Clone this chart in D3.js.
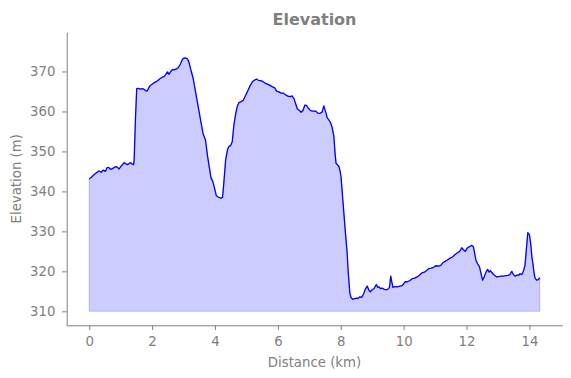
<!DOCTYPE html>
<html lang="en">
<head>
<meta charset="UTF-8">
<title>Elevation</title>
<script src="https://d3js.org/d3.v7.min.js"></script>
<style>
    body { margin: 0; background: #fff; }
    text { font-family: "DejaVu Sans", sans-serif; fill: #808080; }
    .axis path, .axis line { stroke: #808080; }
</style>
</head>
<body>
<svg id="chart"></svg>
<script>
// distance along the track (km)
const distance = [
    0.00, 0.05, 0.10, 0.16, 0.22, 0.28, 0.32, 0.38, 0.44, 0.48, 0.52, 0.56, 0.62, 0.69, 0.74, 0.80,
    0.85, 0.90, 0.95, 1.00, 1.05, 1.11, 1.16, 1.22, 1.27, 1.32, 1.37, 1.41, 1.43, 1.47, 1.51, 1.56,
    1.62, 1.69, 1.75, 1.81, 1.85, 1.90, 1.94, 2.00, 2.06, 2.12, 2.17, 2.22, 2.27, 2.33, 2.38, 2.43,
    2.49, 2.54, 2.59, 2.65, 2.70, 2.76, 2.81, 2.86, 2.91, 2.95, 2.99, 3.05, 3.12, 3.17, 3.23, 3.30,
    3.39, 3.47, 3.55, 3.62, 3.70, 3.76, 3.82, 3.87, 3.93, 3.98, 4.04, 4.10, 4.18, 4.24, 4.28, 4.34,
    4.40, 4.44, 4.50, 4.55, 4.60, 4.66, 4.71, 4.76, 4.82, 4.90, 4.96, 5.03, 5.10, 5.19, 5.25, 5.32,
    5.38, 5.45, 5.52, 5.61, 5.70, 5.82, 5.90, 5.96, 6.03, 6.10, 6.17, 6.24, 6.32, 6.40, 6.45, 6.51,
    6.57, 6.62, 6.68, 6.74, 6.80, 6.86, 6.91, 6.97, 7.04, 7.10, 7.20, 7.27, 7.33, 7.41, 7.46, 7.52,
    7.57, 7.62, 7.67, 7.72, 7.78, 7.82, 7.85, 7.90, 7.94, 7.98, 8.01, 8.05, 8.10, 8.15, 8.20, 8.24,
    8.29, 8.33, 8.38, 8.44, 8.50, 8.55, 8.60, 8.66, 8.73, 8.78, 8.84, 8.90, 8.94, 9.00, 9.06, 9.13,
    9.18, 9.22, 9.26, 9.32, 9.38, 9.44, 9.49, 9.55, 9.59, 9.62, 9.66, 9.72, 9.80, 9.88, 9.95, 10.01,
    10.05, 10.12, 10.20, 10.28, 10.35, 10.43, 10.50, 10.58, 10.66, 10.74, 10.80, 10.88, 10.95, 11.02, 11.11, 11.18,
    11.25, 11.32, 11.40, 11.48, 11.55, 11.62, 11.70, 11.78, 11.85, 11.90, 11.96, 12.02, 12.10, 12.17, 12.22, 12.26,
    12.30, 12.35, 12.41, 12.46, 12.51, 12.56, 12.62, 12.67, 12.72, 12.76, 12.80, 12.86, 12.91, 12.96, 13.02, 13.10,
    13.18, 13.25, 13.32, 13.38, 13.44, 13.49, 13.55, 13.61, 13.66, 13.70, 13.76, 13.81, 13.86, 13.90, 13.95, 14.00,
    14.04, 14.08, 14.11, 14.15, 14.18, 14.23, 14.28, 14.33
];

// elevation (m)
const elevation = [
    343.1, 343.4, 343.8, 344.2, 344.6, 345.0, 345.1, 344.8, 345.3, 345.2, 345.0, 345.9, 346.0, 345.5, 345.7, 346.0,
    346.2, 346.0, 345.6, 346.2, 346.6, 347.2, 346.9, 346.7, 347.0, 347.2, 346.8, 346.7, 348.0, 358.0, 365.7, 365.8,
    365.6, 365.7, 365.5, 365.1, 365.2, 366.0, 366.5, 366.8, 367.2, 367.4, 367.7, 368.0, 368.3, 368.6, 368.7, 369.2,
    369.9, 369.3, 370.0, 370.5, 370.4, 370.6, 370.8, 371.3, 372.0, 372.8, 373.3, 373.4, 373.2, 372.4, 370.5, 368.5,
    364.5, 361.0, 357.5, 354.5, 352.8, 349.0, 346.0, 343.5, 342.5, 341.0, 339.0, 338.6, 338.3, 338.5, 342.0, 348.0,
    350.5, 351.2, 351.5, 352.5, 356.5, 359.5, 361.3, 362.2, 362.4, 362.8, 363.8, 364.9, 366.2, 367.4, 367.8, 368.1,
    367.8, 367.7, 367.5, 367.0, 366.7, 366.2, 365.9, 365.1, 364.9, 364.6, 364.6, 364.2, 363.8, 363.7, 363.9, 363.2,
    361.8, 360.6, 360.3, 359.8, 360.3, 361.6, 361.5, 360.8, 360.2, 360.1, 360.1, 359.6, 359.5, 359.9, 361.4, 359.9,
    358.4, 357.9, 357.3, 356.2, 353.8, 349.5, 347.0, 346.6, 346.3, 345.0, 343.6, 339.5, 334.5, 329.5, 325.0, 319.5,
    314.5, 313.4, 313.0, 313.2, 313.3, 313.2, 313.6, 313.5, 314.4, 315.5, 316.3, 315.2, 314.9, 315.4, 315.7, 316.7,
    316.0, 316.1, 315.7, 315.8, 315.5, 315.4, 315.5, 316.0, 318.8, 317.5, 316.0, 316.2, 316.1, 316.3, 316.4, 317.0,
    317.4, 317.4, 317.7, 318.2, 318.3, 318.6, 319.0, 319.6, 319.8, 320.3, 320.7, 320.8, 321.0, 321.4, 321.3, 321.5,
    322.2, 322.5, 322.9, 323.3, 323.6, 324.1, 324.6, 325.0, 325.9, 325.4, 325.0, 325.8, 326.2, 326.5, 326.1, 324.5,
    322.8, 321.9, 321.2, 319.5, 317.8, 318.6, 319.8, 320.5, 319.8, 320.2, 319.7, 319.2, 318.9, 318.6, 318.7, 318.8,
    318.8, 318.9, 319.0, 319.2, 320.0, 319.2, 318.8, 319.1, 319.0, 319.4, 319.2, 320.1, 321.5, 325.3, 329.7, 329.2,
    327.0, 323.5, 322.0, 319.5, 318.3, 317.8, 317.9, 318.4
];

const baseline = 310;
const xTicks = [0, 2, 4, 6, 8, 10, 12, 14];
const yTicks = [310, 320, 330, 340, 350, 360, 370];

const width = 571, height = 378;
const margin = { top: 32.3, right: 8.7, bottom: 52.7, left: 66.7 };

const svg = d3.select("#chart").attr("width", width).attr("height", height);

const x = d3.scaleLinear().domain([-0.716, 15.046]).range([margin.left, width - margin.right]);
const y = d3.scaleLinear().domain([306.5, 379.8]).range([height - margin.bottom, margin.top]);

const data = distance.map((d, i) => ({ d: d, e: elevation[i] }));

// filled area down to the base level
svg.append("path")
    .datum(data)
    .attr("fill", "rgba(0,0,255,0.2)")
    .attr("stroke", "rgba(0,0,255,0.2)")
    .attr("stroke-width", 1)
    .attr("d", d3.area().x(p => x(p.d)).y0(y(baseline)).y1(p => y(p.e)));

svg.append("path")
    .datum(data)
    .attr("fill", "none")
    .attr("stroke", "blue")
    .attr("stroke-width", 1.3)
    .attr("stroke-linejoin", "round")
    .attr("d", d3.line().x(p => x(p.d)).y(p => y(p.e)));

// axes
svg.append("g")
    .attr("class", "axis")
    .attr("transform", `translate(0,${height - margin.bottom})`)
    .call(d3.axisBottom(x).tickValues(xTicks).tickSize(4.7).tickPadding(6.5).tickSizeOuter(0));

svg.append("g")
    .attr("class", "axis")
    .attr("transform", `translate(${margin.left},0)`)
    .call(d3.axisLeft(y).tickValues(yTicks).tickSize(4.7).tickPadding(6.5).tickSizeOuter(0));

svg.selectAll(".axis text").attr("fill", "#808080").style("font-size", "13.3px");
svg.selectAll(".axis .domain").attr("stroke-width", 1);

// labels
svg.append("text")
    .attr("x", (margin.left + width - margin.right) / 2)
    .attr("y", 25)
    .attr("text-anchor", "middle")
    .style("font-size", "16px")
    .style("font-weight", "bold")
    .text("Elevation");

svg.append("text")
    .attr("x", (margin.left + width - margin.right) / 2)
    .attr("y", 366.5)
    .attr("text-anchor", "middle")
    .style("font-size", "13.3px")
    .text("Distance (km)");

svg.append("text")
    .attr("transform", `translate(21,${(margin.top + height - margin.bottom) / 2}) rotate(-90)`)
    .attr("text-anchor", "middle")
    .style("font-size", "13.3px")
    .text("Elevation (m)");
</script>
</body>
</html>
